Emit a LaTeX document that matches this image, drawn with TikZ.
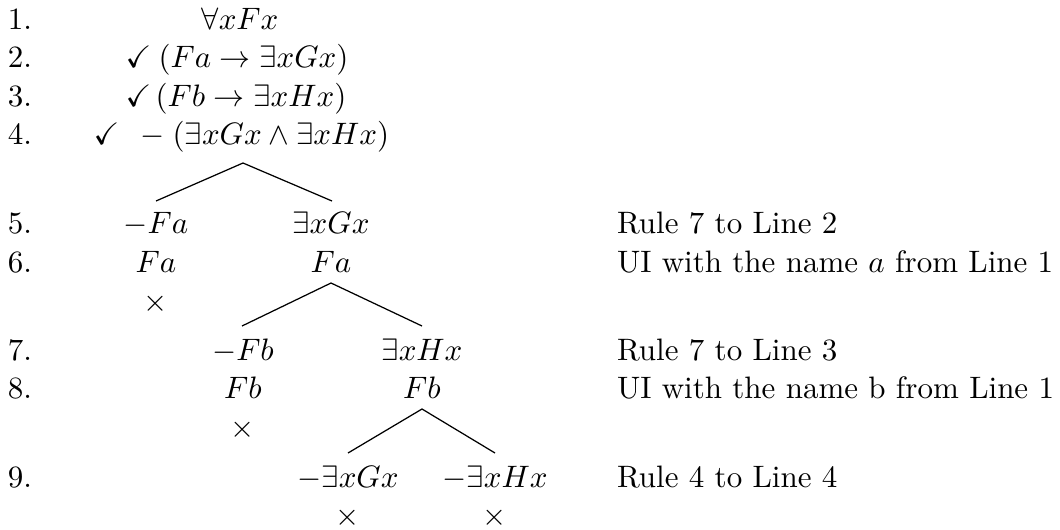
\documentclass[tikz,border=0pt]{standalone}
\usepackage{amssymb}
\begin{document}
\begin{tikzpicture}[x=0.32258pt,y=-0.32258pt,
  t/.style={inner sep=0pt,outer sep=0pt,anchor=base},
  tw/.style={inner sep=0pt,outer sep=0pt,anchor=base west},
  br/.style={line width=0.4pt}]
\useasboundingbox (0,0) rectangle (1060,529);
% line numbers
\node[tw] (n1) at (8,29) {1.};
\node[tw] (n2) at (8,67) {2.};
\node[tw] (n3) at (8,106) {3.};
\node[tw] (n4) at (8,144) {4.};
\node[tw] (n5) at (8,233) {5.};
\node[tw] (n6) at (8,272) {6.};
\node[tw] (n7) at (8,360) {7.};
\node[tw] (n8) at (8,398) {8.};
\node[tw] (n9) at (8,487) {9.};
% trunk
\node[t] (f1) at (240,29) {$\forall xFx$};
\node[t] (c2) at (138.5,67) {$\checkmark$};
\node[t] (f2) at (253.5,67) {$(Fa\rightarrow\exists xGx)$};
\node[t] (c3) at (138.5,106) {$\checkmark$};
\node[t] (f3) at (251,106) {$(Fb\rightarrow\exists xHx)$};
\node[t] (c4) at (106.5,144) {$\checkmark$};
\node[t] (m4) at (152.5,144) {$-$};
\node[t] (f4) at (281,144) {$(\exists xGx\wedge\exists xHx)$};
% first branching
\node[t] (l5) at (156,233) {$-Fa$};
\node[t] (r5) at (331,233) {$\exists xGx$};
\node[t] (l6) at (156,272) {$Fa$};
\node[t] (r6) at (331,272) {$Fa$};
\node[t] (x6) at (156,311) {$\times$};
% second branching
\node[t] (l7) at (243,360) {$-Fb$};
\node[t] (r7) at (422,360) {$\exists xHx$};
\node[t] (l8) at (243,398) {$Fb$};
\node[t] (r8) at (422,398) {$Fb$};
\node[t] (x8) at (243,437) {$\times$};
% third branching
\node[t] (l9) at (348,487) {$-\exists xGx$};
\node[t] (r9) at (495,487) {$-\exists xHx$};
\node[t] (x9l) at (348,525) {$\times$};
\node[t] (x9r) at (495,525) {$\times$};
% justifications
\node[tw] (j5) at (617,233) {Rule 7 to Line 2};
\node[tw] (j6) at (617,272) {UI with the name $a$ from Line 1};
\node[tw] (j7) at (617,360) {Rule 7 to Line 3};
\node[tw] (j8) at (617,398) {UI with the name b from Line 1};
\node[tw] (j9) at (617,487) {Rule 4 to Line 4};
% branch points
\coordinate (a1) at (243,163);
\coordinate (a1l) at (156,201);
\coordinate (a1r) at (332,201);
\coordinate (a2) at (331,283);
\coordinate (a2l) at (242,326);
\coordinate (a2r) at (422,326);
\coordinate (a3) at (422,409);
\coordinate (a3l) at (348,453);
\coordinate (a3r) at (495,453);
\draw[br] (a1l) -- (a1) -- (a1r);
\draw[br] (a2l) -- (a2) -- (a2r);
\draw[br] (a3l) -- (a3) -- (a3r);
\end{tikzpicture}
\end{document}
